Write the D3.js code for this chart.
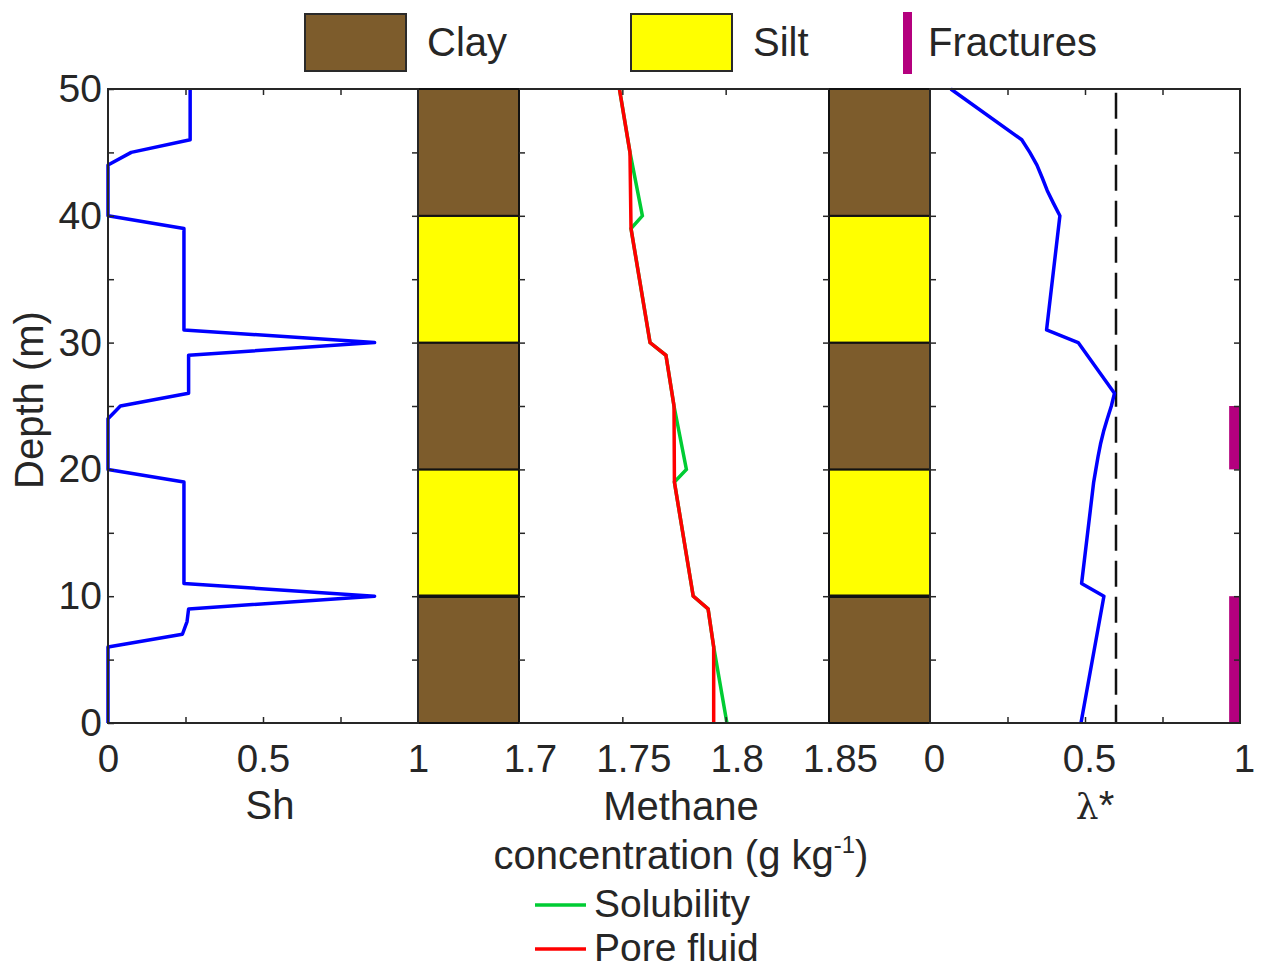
<!DOCTYPE html>
<html>
<head>
<meta charset="utf-8">
<script src="https://cdn.jsdelivr.net/npm/d3@7"></script>
<style>
  body { margin: 0; background: #fff; }
  svg text { font-family: "Liberation Sans", Arial, sans-serif; fill: #262626; }
</style>
</head>
<body>
<svg id="chart" width="1264" height="971"></svg>
<script>
// Hydrate saturation profile
const shDepth = [50, 46, 45, 44, 40, 39, 31, 30, 29, 26, 25, 24, 20, 19, 11, 10, 9, 8, 7, 6, 0];
const shValue = [0.265, 0.265, 0.075, 0, 0, 0.245, 0.245, 0.86, 0.26, 0.26, 0.04, 0, 0, 0.245, 0.245, 0.86, 0.26, 0.255, 0.24, 0, 0];

// Methane solubility and pore-fluid concentration (g/kg)
const solDepth = [50, 45, 40, 39, 30, 29, 25, 20, 19, 10, 9, 6, 0];
const solValue = [1.7486, 1.7537, 1.7597, 1.7542, 1.7634, 1.7711, 1.7750, 1.7810, 1.7752, 1.7843, 1.7915, 1.7942, 1.8006];
const poreDepth = [50, 45, 39, 30, 29, 25, 19, 10, 9, 6, 0];
const poreValue = [1.7486, 1.7537, 1.7542, 1.7634, 1.7711, 1.7750, 1.7752, 1.7843, 1.7915, 1.7942, 1.7942];

// Normalised lambda profile and its critical value
const lamDepth = [50, 46, 45, 44, 43, 42, 41, 40, 31, 30, 26, 25, 24, 23, 22, 21, 20, 19, 11, 10, 0];
const lamValue = [0.067, 0.296, 0.322, 0.345, 0.362, 0.378, 0.398, 0.419, 0.376, 0.478, 0.595, 0.585, 0.572, 0.560, 0.550, 0.542, 0.535, 0.528, 0.489, 0.561, 0.487];
const lamCritical = 0.6;

// Fractured intervals (depth range, m)
const fracBase = [20, 0];
const fracTop = [25, 10];

// Lithology layers
const layerBase = [0, 10, 20, 30, 40];
const layerTop = [10, 20, 30, 40, 50];
const layerType = ["Clay", "Silt", "Clay", "Silt", "Clay"];

// Tick values and labels
const depthTicks = [0, 5, 10, 15, 20, 25, 30, 35, 40, 45, 50];
const shTicks = [0, 0.25, 0.5, 0.75, 1];
const concTicks = [1.7, 1.75, 1.8, 1.85];
const lamTicks = [0, 0.25, 0.5, 0.75, 1];

const colors = { Clay: "#7d5c2c", Silt: "#ffff00", frac: "#b4007e", sol: "#00cc33", pore: "#ff0000", lam: "#0000ff", sh: "#0000ff" };

const svg = d3.select("#chart");
const axisColor = "#262626";

const y = d3.scaleLinear().domain([0, 50]).range([723, 89]);
const x1 = d3.scaleLinear().domain([0, 1]).range([108, 418]);
const x2 = d3.scaleLinear().domain([1.7, 1.85]).range([519, 829]);
const x3 = d3.scaleLinear().domain([0, 1]).range([930, 1240]);

const tickFont = 38.5;

function styleAxis(g, dx) {
  g.select(".domain").remove();
  g.selectAll(".tick line").attr("stroke", axisColor).attr("stroke-width", 1.5);
  g.selectAll(".tick text").attr("font-size", tickFont).attr("fill", axisColor)
    .attr("font-family", "Liberation Sans, Arial, sans-serif");
  if (dx) g.selectAll(".tick text").attr("dx", dx);
}

function frame(x0, x1p) {
  svg.append("rect").attr("x", x0).attr("y", y(50)).attr("width", x1p - x0).attr("height", y(0) - y(50))
    .attr("fill", "none").attr("stroke", axisColor).attr("stroke-width", 2);
}

// ---- Lithology columns
function column(xa, xb) {
  const g = svg.append("g");
  g.selectAll("rect").data(layerType).join("rect")
    .attr("x", xa).attr("width", xb - xa)
    .attr("y", (d, i) => y(layerTop[i]))
    .attr("height", (d, i) => y(layerBase[i]) - y(layerTop[i]))
    .attr("fill", d => colors[d])
    .attr("stroke", "#111").attr("stroke-width", 2);
  // the silt/clay contact at the base of the lower silt is drawn heavier
  g.append("line").attr("x1", xa).attr("x2", xb).attr("y1", y(10)).attr("y2", y(10))
    .attr("stroke", "#111").attr("stroke-width", 3.5);
}
column(x1(1), x2(1.7));
column(x2(1.85), x3(0));

// ---- Panel 1: Sh
const shLine = d3.line().x(d => x1(d[1])).y(d => y(d[0]));
svg.append("path").datum(shDepth.map((d, i) => [d, shValue[i]]))
  .attr("d", shLine).attr("fill", "none").attr("stroke", colors.sh).attr("stroke-width", 3.5)
  .attr("stroke-linejoin", "round");

svg.append("g").attr("transform", `translate(${x1(0)},0)`)
  .call(d3.axisLeft(y).tickValues(depthTicks).tickSize(-6).tickSizeOuter(0).tickPadding(6)
    .tickFormat(d => d % 10 === 0 ? d : ""))
  .call(g => { styleAxis(g); g.selectAll(".tick text").attr("font-size", 39); });
svg.append("g").attr("transform", `translate(${x1(1)},0)`)
  .call(d3.axisRight(y).tickValues(depthTicks.slice(1, -1)).tickSize(-6).tickFormat(""))
  .call(g => styleAxis(g));
svg.append("g").attr("transform", `translate(0,${y(0)})`)
  .call(d3.axisBottom(x1).tickValues(shTicks).tickSize(-6).tickSizeOuter(0).tickPadding(22)
    .tickFormat(d => (d === 0 || d === 0.5 || d === 1) ? d : ""))
  .call(g => { styleAxis(g); g.selectAll(".tick line").filter(d => d === 0 || d === 1).remove(); });
svg.append("g").attr("transform", `translate(0,${y(50)})`)
  .call(d3.axisTop(x1).tickValues(shTicks.slice(1, -1)).tickSize(-6).tickFormat(""))
  .call(g => styleAxis(g));
frame(x1(0), x1(1));

// ---- Panel 2: methane concentration
const cLine = d3.line().x(d => x2(d[1])).y(d => y(d[0]));
svg.append("path").datum(solDepth.map((d, i) => [d, solValue[i]]))
  .attr("d", cLine).attr("fill", "none").attr("stroke", colors.sol).attr("stroke-width", 3.5);
svg.append("path").datum(poreDepth.map((d, i) => [d, poreValue[i]]))
  .attr("d", cLine).attr("fill", "none").attr("stroke", colors.pore).attr("stroke-width", 3.5);

svg.append("g").attr("transform", `translate(0,${y(0)})`)
  .call(d3.axisBottom(x2).tickValues(concTicks).tickSize(-6).tickSizeOuter(0).tickPadding(22)
    .tickFormat(d3.format("")))
  .call(g => { styleAxis(g, 11); g.selectAll(".tick line").filter(d => d === 1.7 || d === 1.85).remove(); });
svg.append("g").attr("transform", `translate(0,${y(50)})`)
  .call(d3.axisTop(x2).tickValues([1.75, 1.8]).tickSize(-6).tickFormat(""))
  .call(g => styleAxis(g));
svg.append("g").attr("transform", `translate(${x2(1.7)},0)`)
  .call(d3.axisRight(y).tickValues(depthTicks.slice(1, -1)).tickSize(6).tickFormat(""))
  .call(g => styleAxis(g));
svg.append("g").attr("transform", `translate(${x2(1.85)},0)`)
  .call(d3.axisLeft(y).tickValues(depthTicks.slice(1, -1)).tickSize(6).tickFormat(""))
  .call(g => styleAxis(g));
svg.append("line").attr("x1", x2(1.7)).attr("x2", x2(1.85)).attr("y1", y(50)).attr("y2", y(50))
  .attr("stroke", axisColor).attr("stroke-width", 2);
svg.append("line").attr("x1", x2(1.7)).attr("x2", x2(1.85)).attr("y1", y(0)).attr("y2", y(0))
  .attr("stroke", axisColor).attr("stroke-width", 2);

// ---- Panel 3: lambda*
svg.append("line").attr("x1", x3(lamCritical)).attr("x2", x3(lamCritical))
  .attr("y1", y(49.7)).attr("y2", y(0))
  .attr("stroke", "#111").attr("stroke-width", 2.5).attr("stroke-dasharray", "26,10");

const lLine = d3.line().x(d => x3(d[1])).y(d => y(d[0]));
svg.append("path").datum(lamDepth.map((d, i) => [d, lamValue[i]]))
  .attr("d", lLine).attr("fill", "none").attr("stroke", colors.lam).attr("stroke-width", 3.5)
  .attr("stroke-linejoin", "round");

svg.append("g").selectAll("rect").data(fracBase).join("rect")
  .attr("x", x3(0.965)).attr("width", x3(0.997) - x3(0.965))
  .attr("y", (d, i) => y(fracTop[i])).attr("height", (d, i) => y(d) - y(fracTop[i]))
  .attr("fill", colors.frac);

svg.append("g").attr("transform", `translate(0,${y(0)})`)
  .call(d3.axisBottom(x3).tickValues(lamTicks).tickSize(-6).tickSizeOuter(0).tickPadding(22)
    .tickFormat(d => (d === 0 || d === 0.5 || d === 1) ? d : ""))
  .call(g => { styleAxis(g, 4); g.selectAll(".tick line").filter(d => d === 0 || d === 1).remove(); });
svg.append("g").attr("transform", `translate(0,${y(50)})`)
  .call(d3.axisTop(x3).tickValues(lamTicks.slice(1, -1)).tickSize(-6).tickFormat(""))
  .call(g => styleAxis(g));
svg.append("g").attr("transform", `translate(${x3(0)},0)`)
  .call(d3.axisLeft(y).tickValues(depthTicks.slice(1, -1)).tickSize(-6).tickFormat(""))
  .call(g => styleAxis(g));
svg.append("g").attr("transform", `translate(${x3(1)},0)`)
  .call(d3.axisRight(y).tickValues(depthTicks.slice(1, -1)).tickSize(-6).tickFormat(""))
  .call(g => styleAxis(g));
frame(x3(0), x3(1));

// ---- Axis titles
const titleSize = 40;
svg.append("text").attr("transform", "translate(43,400) rotate(-90)")
  .attr("text-anchor", "middle").attr("font-size", titleSize).text("Depth (m)");
svg.append("text").attr("x", 270).attr("y", 819).attr("text-anchor", "middle")
  .attr("font-size", titleSize).text("Sh");
svg.append("text").attr("x", 681).attr("y", 820).attr("text-anchor", "middle")
  .attr("font-size", titleSize).text("Methane");
const conc = svg.append("text").attr("x", 681).attr("y", 869).attr("text-anchor", "middle")
  .attr("font-size", titleSize);
conc.append("tspan").text("concentration (g kg");
conc.append("tspan").attr("font-size", 24).attr("dy", -16).text("-1");
conc.append("tspan").attr("dy", 16).text(")");
const lam = svg.append("text").attr("x", 1095).attr("y", 819).attr("text-anchor", "middle")
  .attr("font-size", titleSize);
lam.append("tspan").attr("font-family", "DejaVu Serif, Liberation Serif, serif").attr("font-size", 36).text("λ");
lam.append("tspan").text("*");

// ---- Top legend: lithology and fractures
const legend = svg.append("g");
const legendItems = [
  { label: "Clay", x: 305, color: colors.Clay },
  { label: "Silt", x: 631, color: colors.Silt }
];
legendItems.forEach(it => {
  legend.append("rect").attr("x", it.x).attr("y", 14).attr("width", 101).attr("height", 57)
    .attr("fill", it.color).attr("stroke", "#2a2a2a").attr("stroke-width", 2);
  legend.append("text").attr("x", it.x + 122).attr("y", 56).attr("font-size", 40)
    .attr("fill", "#1a1a1a").text(it.label);
});
legend.append("rect").attr("x", 903).attr("y", 12).attr("width", 9).attr("height", 62).attr("fill", colors.frac);
legend.append("text").attr("x", 928).attr("y", 56).attr("font-size", 40).attr("fill", "#1a1a1a").text("Fractures");

// ---- Bottom legend: concentration curves
const lineLegend = [
  { label: "Solubility", color: colors.sol, y: 905 },
  { label: "Pore fluid", color: colors.pore, y: 949 }
];
lineLegend.forEach(it => {
  svg.append("line").attr("x1", 535).attr("x2", 586).attr("y1", it.y).attr("y2", it.y)
    .attr("stroke", it.color).attr("stroke-width", 3.5);
  svg.append("text").attr("x", 594).attr("y", it.y + 12).attr("font-size", 39)
    .attr("fill", "#1a1a1a").text(it.label);
});
</script>
</body>
</html>
